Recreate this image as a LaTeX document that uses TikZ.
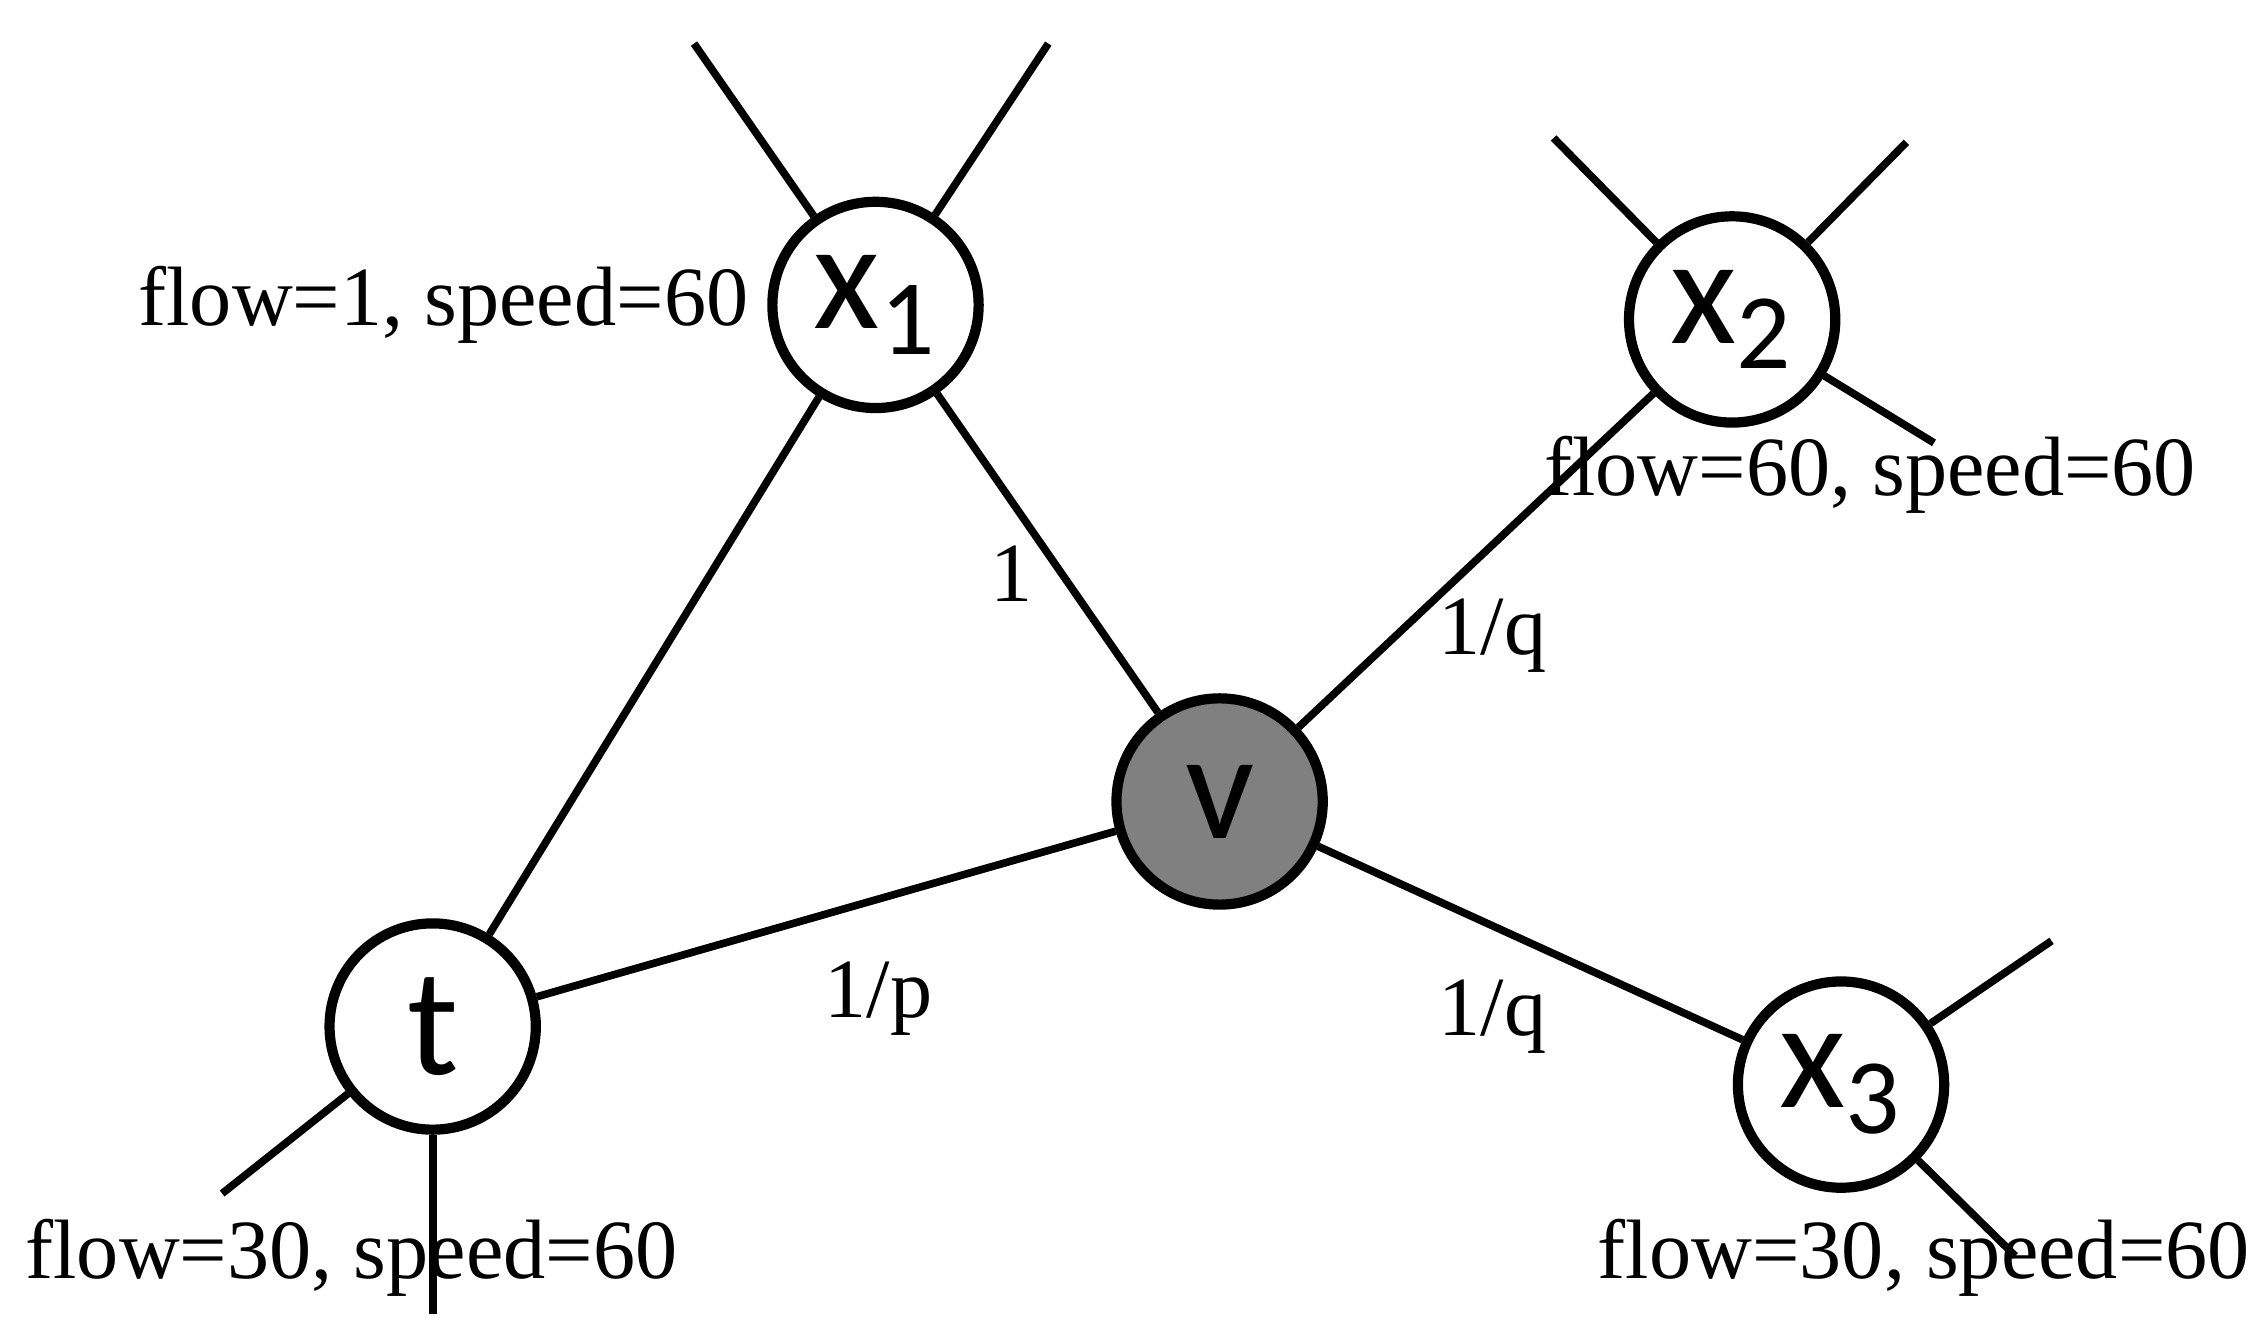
\documentclass[tikz,border=0pt]{standalone}
\usepackage{fontspec}
\setmainfont{Liberation Serif}
\newfontfamily\nodefont{Carlito}
\begin{document}
\begin{tikzpicture}[x=0.01cm,y=-0.01cm,line width=1.5pt,
  vert/.style={circle,draw,line width=2pt,minimum size=1.42cm,inner sep=0pt,font=\nodefont\fontsize{30}{32}\selectfont},
  lab/.style={font=\fontsize{16.5}{18}\selectfont,inner sep=0pt}]
\useasboundingbox (0,0) rectangle (1560,914);
\node[vert] (x1) at (603,210) {x\textsubscript{1}};
\node[vert] (x2) at (1193,220) {x\textsubscript{2}};
\node[vert,fill=black!50] (v) at (840,552) {v};
\node[vert] (t) at (298,707) {t};
\node[vert] (x3) at (1268,747) {x\textsubscript{3}};
\coordinate (a1) at (478,30); \coordinate (a2) at (722,30);
\coordinate (b1) at (1070,95); \coordinate (b2) at (1313,98); \coordinate (b3) at (1332,305);
\coordinate (c1) at (153,822); \coordinate (c2) at (298,905);
\coordinate (d1) at (1413,648); \coordinate (d2) at (1388,865);
\draw (x1) -- (a1); \draw (x1) -- (a2);
\draw (x2) -- (b1); \draw (x2) -- (b2); \draw (x2) -- (b3);
\draw (t) -- (c1); \draw (t) -- (c2);
\draw (x3) -- (d1); \draw (x3) -- (d2);
\draw (x1) -- (t); \draw (x1) -- (v); \draw (x2) -- (v); \draw (t) -- (v); \draw (x3) -- (v);
\node[lab,anchor=east] (l1) at (518,210) {flow=1, speed=60};
\node[lab] (l2) at (1288,327) {flow=60, speed=60};
\node[lab] (l3) at (242,866) {flow=30, speed=60};
\node[lab] (l4) at (1325,866) {flow=30, speed=60};
\node[lab] (e1) at (697,395) {1};
\node[lab] (e2) at (1028,438) {1/q};
\node[lab] (e3) at (605,688) {1/p};
\node[lab] (e4) at (1028,700) {1/q};
\end{tikzpicture}
\end{document}
